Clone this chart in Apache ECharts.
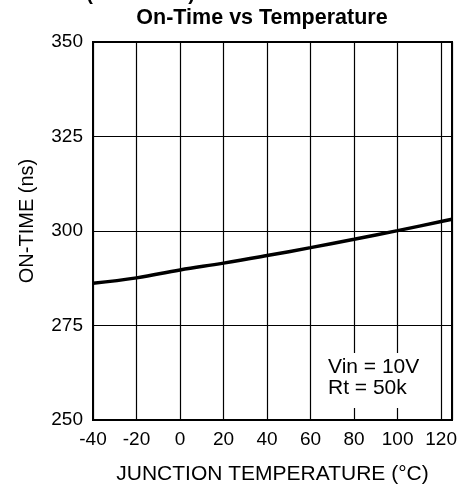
<!DOCTYPE html>
<html>
<head>
<meta charset="utf-8">
<script src="https://cdn.jsdelivr.net/npm/echarts@6/dist/echarts.min.js"></script>
<style>
html,body{margin:0;padding:0;background:#fff;}
#chart{width:463px;height:491px;}
</style>
</head>
<body>
<div id="chart"></div>
<script>
var temperatures = [-40, -20, 0, 20, 40, 60, 80, 100, 120, 125];
var onTimeNs = [286.2, 287.6, 289.7, 291.5, 293.5, 295.6, 297.8, 300.1, 302.5, 303.1];
var xTicks = [-40, -20, 0, 20, 40, 60, 80, 100, 120];
var yTicks = [250, 275, 300, 325, 350];
var titleText = 'On-Time vs Temperature';
var headerText = 'Typical Performance Characteristics (continued)';
var xName = 'JUNCTION TEMPERATURE (\u00B0C)';
var yName = 'ON-TIME (ns)';
var noteLines = ['Vin = 10V', 'Rt = 50k'];

var FONT = 'Liberation Sans, Arial, Helvetica, sans-serif';
var chart = echarts.init(document.getElementById('chart'), null, {renderer: 'canvas'});

var seriesData = temperatures.map(function (t, i) { return [t, onTimeNs[i]]; });

chart.setOption({
  backgroundColor: '#fff',
  animation: false,
  title: {
    text: titleText,
    left: 262,
    top: 7,
    textAlign: 'center',
    padding: 0,
    textStyle: {fontFamily: FONT, fontWeight: 'bold', fontSize: 21.5, color: '#000'}
  },
  grid: {
    left: 93, right: 11, top: 42, bottom: 71,
    show: true, borderColor: '#000', borderWidth: 2, backgroundColor: 'transparent'
  },
  xAxis: {
    type: 'value',
    min: -40, max: 125, interval: 20,
    name: xName,
    nameLocation: 'middle',
    nameGap: 44,
    nameTextStyle: {fontFamily: FONT, fontSize: 21, color: '#000'},
    axisLine: {show: false},
    axisTick: {show: false},
    splitLine: {show: true, lineStyle: {color: '#000', width: 1.2}},
    axisLabel: {
      fontFamily: FONT, fontSize: 19, color: '#000', margin: 10,
      showMaxLabel: false,
      formatter: function (v) { return xTicks.indexOf(v) >= 0 ? String(v) : ''; }
    }
  },
  yAxis: {
    type: 'value',
    min: 250, max: 350, interval: 25,
    name: yName,
    nameLocation: 'middle',
    nameGap: 56,
    nameTextStyle: {fontFamily: FONT, fontSize: 20, color: '#000', padding: [0, 0, 0, 20]},
    axisLine: {show: false},
    axisTick: {show: false},
    splitLine: {show: true, lineStyle: {color: '#000', width: 1.2}},
    axisLabel: {
      fontFamily: FONT, fontSize: 19, color: '#000', margin: 10,
      formatter: function (v) { return yTicks.indexOf(v) >= 0 ? String(v) : ''; }
    }
  },
  graphic: [
    {
      type: 'text', x: 195, y: -6,
      style: {text: headerText, fontFamily: FONT, fontWeight: 'bold', fontSize: 20, fill: '#000',
              textAlign: 'right', textVerticalAlign: 'middle'}
    },
    {
      type: 'rect', x: 322, y: 353, z: 100,
      shape: {width: 104, height: 55},
      style: {fill: '#fff'}
    },
    {
      type: 'text', x: 328, y: 357, z: 101,
      style: {text: noteLines.join('\n'), fontFamily: FONT, fontSize: 21, lineHeight: 21, fill: '#000'}
    }
  ],
  series: [{
    type: 'line',
    data: seriesData,
    smooth: 0.4,
    showSymbol: false,
    symbol: 'none',
    lineStyle: {color: '#000', width: 3.5},
    z: 5
  }]
});
</script>
</body>
</html>
